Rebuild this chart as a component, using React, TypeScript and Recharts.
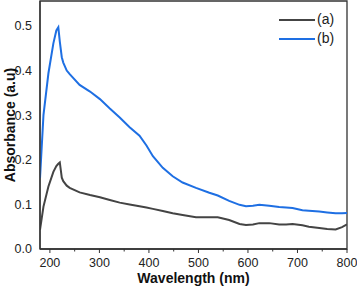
import React from 'react';
import { LineChart, Line, XAxis, YAxis, ReferenceArea } from 'recharts';

const wavelengths = [180, 187, 197, 207, 213, 217, 220, 224, 227, 234, 240, 260, 281, 301, 321, 341, 361, 381, 395, 408, 428, 448, 468, 495, 522, 539, 562, 583, 596, 610, 623, 643, 663, 677, 690, 710, 723, 744, 760, 777, 790, 800];
const seriesA = [0.043, 0.095, 0.14, 0.173, 0.186, 0.191, 0.194, 0.16, 0.152, 0.142, 0.137, 0.127, 0.121, 0.116, 0.11, 0.104, 0.1, 0.096, 0.093, 0.09, 0.085, 0.08, 0.076, 0.071, 0.071, 0.071, 0.065, 0.056, 0.054, 0.055, 0.058, 0.058, 0.055, 0.055, 0.056, 0.053, 0.05, 0.047, 0.045, 0.044, 0.049, 0.055];
const seriesB = [0.159, 0.3, 0.394, 0.461, 0.49, 0.497, 0.465, 0.43, 0.418, 0.4, 0.392, 0.368, 0.353, 0.336, 0.315, 0.295, 0.273, 0.254, 0.232, 0.208, 0.182, 0.163, 0.149, 0.137, 0.126, 0.12, 0.108, 0.099, 0.096, 0.097, 0.099, 0.097, 0.094, 0.093, 0.092, 0.087, 0.086, 0.084, 0.082, 0.08, 0.08, 0.081];
const xTicks = [200, 250, 300, 350, 400, 450, 500, 550, 600, 650, 700, 750, 800];
const yTicks = [0, 0.1, 0.2, 0.3, 0.4, 0.5];
const seriesNames = ['(a)', '(b)'];
const X_DOMAIN = [180, 800];
const Y_DOMAIN = [0, 0.556];

const data = wavelengths.map((w, i) => ({ w, a: seriesA[i], b: seriesB[i] }));

const COLOR_A = '#444444';
const COLOR_B = '#1e6fe3';
const AXIS = '#333333';
const FONT = '"Liberation Sans", Arial, sans-serif';

const XTick = (props: any) => {
  const { x, y, payload } = props;
  const major = payload.value % 100 === 0;
  return (
    <g>
      <line x1={x} x2={x} y1={y} y2={y + (major ? 4 : 2.5)} stroke={AXIS} strokeWidth={1} />
      {major && (
        <text x={x} y={y + 18} textAnchor="middle" fontSize={12.5} fill="#222">
          {payload.value}
        </text>
      )}
    </g>
  );
};

const LegendBox = () => (
  <div style={{ position: 'absolute', left: 279, top: 10, fontFamily: FONT, fontSize: 14, color: '#222' }}>
    {seriesNames.map((n, i) => (
      <div key={n} style={{ display: 'flex', alignItems: 'center', height: 19 }}>
        <svg width={36} height={4} style={{ display: 'block' }}>
          <line x1={0} x2={36} y1={2} y2={2} stroke={i === 0 ? COLOR_A : COLOR_B} strokeWidth={2} />
        </svg>
        <span style={{ marginLeft: 2, lineHeight: '19px' }}>{n}</span>
      </div>
    ))}
  </div>
);

export default function App() {
  return (
    <div style={{ position: 'absolute', left: 0, top: 0, width: 357, height: 286, fontFamily: FONT }}>
      <LineChart width={357} height={286} data={data} margin={{ top: 1, right: 10, left: 0, bottom: 0 }}>
        <XAxis
          dataKey="w"
          type="number"
          domain={X_DOMAIN}
          ticks={xTicks}
          allowDataOverflow
          height={37}
          tickSize={0}
          tickMargin={0}
          tickLine={false}
          tick={<XTick />}
          axisLine={{ stroke: AXIS, strokeWidth: 1.3 }}
          interval={0}
          label={{ value: 'Wavelength (nm)', position: 'insideBottom', offset: 3, style: { fontWeight: 'bold', fontSize: 14, fill: '#111' } }}
        />
        <YAxis
          type="number"
          domain={Y_DOMAIN}
          ticks={yTicks}
          allowDataOverflow
          width={40}
          tickSize={0}
          tickMargin={8}
          tickLine={false}
          interval={0}
          tickFormatter={(v: number) => v.toFixed(1)}
          tick={{ fontSize: 12.5, fill: '#222' }}
          axisLine={{ stroke: AXIS, strokeWidth: 1.3 }}
          label={{ value: 'Absorbance (a.u)', angle: -90, position: 'center', dx: -10, style: { fontWeight: 'bold', fontSize: 14, fill: '#111', textAnchor: 'middle' } }}
        />
        <ReferenceArea
          x1={X_DOMAIN[0]}
          x2={X_DOMAIN[1]}
          y1={Y_DOMAIN[0]}
          y2={Y_DOMAIN[1]}
          fill="none"
          stroke={AXIS}
          strokeWidth={1.3}
          ifOverflow="visible"
        />
        <Line type="linear" dataKey="a" name="(a)" stroke={COLOR_A} strokeWidth={2} dot={false} isAnimationActive={false} />
        <Line type="linear" dataKey="b" name="(b)" stroke={COLOR_B} strokeWidth={2} dot={false} isAnimationActive={false} />
      </LineChart>
      <LegendBox />
    </div>
  );
}
